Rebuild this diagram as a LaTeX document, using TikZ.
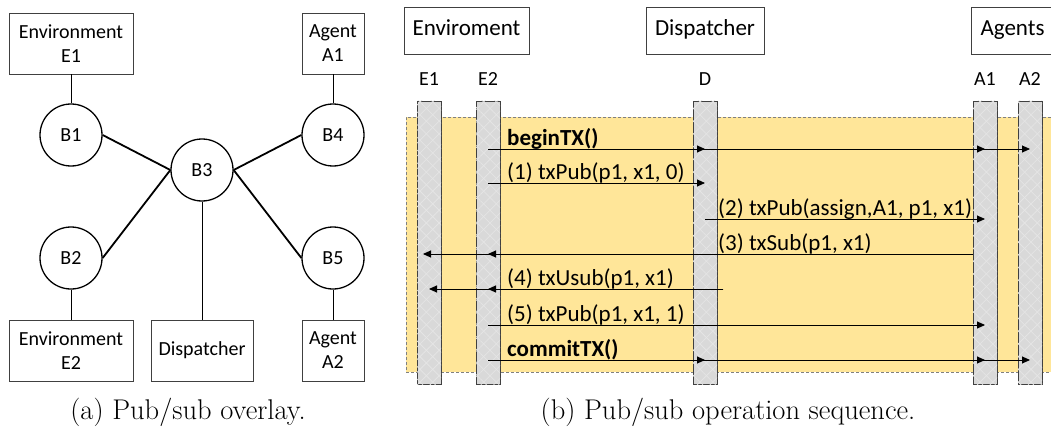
\documentclass[tikz,border=0pt]{standalone}
\usepackage{fontspec}
\newfontfamily\calfont{Carlito}
\usetikzlibrary{arrows.meta,patterns.meta}

\definecolor{notefill}{HTML}{FFE699}
\definecolor{notedash}{HTML}{808080}
\definecolor{barfill}{HTML}{D9D9D9}
\definecolor{barhatch}{HTML}{E6E6E6}
\definecolor{edgegray}{HTML}{404040}

\tikzset{
  box/.style={draw=edgegray, line width=0.9pt, fill=white, align=center,
    inner sep=0pt, font=\calfont\fontsize{20}{24}\selectfont},
  broker/.style={circle, draw=black, line width=1.3pt, minimum size=62pt,
    inner sep=0pt, font=\calfont\fontsize{20}{24}\selectfont},
  thinlink/.style={line width=0.8pt},
  thicklink/.style={line width=1.8pt},
  header/.style={draw=edgegray, line width=0.9pt, fill=white, inner sep=0pt,
    minimum height=47pt, text height=16pt, text depth=5pt,
    font=\calfont\fontsize{23}{27}\selectfont},
  lifeline/.style={draw=edgegray, line width=0.9pt, fill=barfill, inner sep=0pt,
    minimum width=24pt, minimum height=283pt,
    postaction={pattern={Lines[angle=45,distance=9pt,line width=0.6pt]}, pattern color=barhatch},
    postaction={pattern={Lines[angle=-45,distance=9pt,line width=0.6pt]}, pattern color=barhatch}},
  tag/.style={font=\calfont\fontsize{20}{24}\selectfont, inner sep=0pt},
  msg/.style={line width=0.9pt, -{Triangle[length=8pt,width=7pt]}},
  lbl/.style={anchor=base west, inner sep=0pt, font=\calfont\fontsize{23}{27}\selectfont},
  boldlbl/.style={lbl, font=\calfont\bfseries\fontsize{23}{27}\selectfont},
  caption/.style={font=\fontsize{28.5}{32}\selectfont, inner sep=0pt}
}

\begin{document}
\begin{tikzpicture}[x=1pt, y=-1pt]
\useasboundingbox (0,0) rectangle (1051,433);
\clip (0,0) rectangle (1051,433);

% ---------- overlay network ----------
\node[box, minimum width=124pt, minimum height=61pt] (envA) at (71,43.5) {Environment\\E1};
\node[box, minimum width=62pt, minimum height=61pt] (agA) at (333,43.5) {Agent\\A1};
\node[box, minimum width=124pt, minimum height=61pt] (envB) at (71,350.5) {Environment\\E2};
\node[box, minimum width=102pt, minimum height=61pt] (disp) at (202,350.5) {Dispatcher};
\node[box, minimum width=62pt, minimum height=61pt] (agB) at (333,350.5) {Agent\\A2};

\node[broker] (b1) at (71,135) {B1};
\node[broker] (b4) at (333,135) {B4};
\node[broker] (b3) at (202,170) {B3};
\node[broker] (b2) at (71,258) {B2};
\node[broker] (b5) at (333,258) {B5};

\draw[thinlink] (envA) -- (b1);
\draw[thinlink] (agA) -- (b4);
\draw[thinlink] (b2) -- (envB);
\draw[thinlink] (b5) -- (agB);
\draw[thinlink] (b3) -- (disp);
\draw[thicklink] (b1.east) -- (b3.west);
\draw[thicklink] (b2.east) -- (b3.west);
\draw[thicklink] (b4.west) -- (b3.east);
\draw[thicklink] (b5.west) -- (b3.east);

\node[caption] (capa) at (188,412) {(a) Pub/sub overlay.};

% ---------- operation sequence ----------
\node[draw=notedash, line width=0.9pt, dash pattern=on 3pt off 2pt, fill=notefill,
  anchor=north west, minimum width=660pt, minimum height=255pt, inner sep=0pt]
  (txn) at (406,117) {};

\node[header, minimum width=125pt] (hEnv) at (466.5,30.5) {Enviroment};
\node[header, minimum width=118pt] (hDisp) at (705,30.5) {Dispatcher};
\node[header, minimum width=83pt] (hAg) at (1012.5,30.5) {Agents};

\node[lifeline] (E1bar) at (429,242.5) {};
\node[lifeline] (E2bar) at (488,242.5) {};
\node[lifeline] (Dbar) at (705,242.5) {};
\node[lifeline] (A1bar) at (985,242.5) {};
\node[lifeline] (A2bar) at (1030,242.5) {};

\coordinate (hdr) at (0,79);
\node[tag] (tE1) at (E1bar |- hdr) {E1};
\node[tag] (tE2) at (E2bar |- hdr) {E2};
\node[tag] (tD) at (Dbar |- hdr) {D};
\node[tag] (tA1) at (A1bar |- hdr) {A1};
\node[tag] (tA2) at (A2bar |- hdr) {A2};

\coordinate (m0) at (0,149);
\coordinate (m1) at (0,183);
\coordinate (m2) at (0,219);
\coordinate (m3) at (0,254);
\coordinate (m4) at (0,289);
\coordinate (m5) at (0,325);
\coordinate (m6) at (0,360);
\coordinate (e1tip) at ([xshift=-6pt]E1bar.center);
\coordinate (dout) at ([xshift=6pt]Dbar.east);

% beginTX
\draw[msg] (E2bar |- m0) -- (Dbar |- m0);
\draw[msg] (E2bar |- m0) -- (A1bar |- m0);
\draw[msg] (E2bar |- m0) -- (A2bar |- m0);
% (1)
\draw[msg] (E2bar |- m1) -- (Dbar |- m1);
% (2)
\draw[msg] (Dbar |- m2) -- (A1bar |- m2);
% (3)
\draw[msg] (A1bar.west |- m3) -- (E2bar |- m3);
\draw[msg] (A1bar.west |- m3) -- (e1tip |- m3);
% (4)
\draw[msg] (dout |- m4) -- (E2bar |- m4);
\draw[msg] (dout |- m4) -- (E1bar |- m4);
% (5)
\draw[msg] (E2bar |- m5) -- (A1bar |- m5);
% commitTX
\draw[msg] (E2bar |- m6) -- (Dbar |- m6);
\draw[msg] (E2bar |- m6) -- (A1bar |- m6);
\draw[msg] (E2bar |- m6) -- (A2bar |- m6);

\node[boldlbl] (l0) at (507,145) {beginTX()};
\node[lbl] (l1) at (507,179) {(1) txPub(p1, x1, 0)};
\node[lbl] (l2) at (718,215) {(2) txPub(assign,A1, p1, x1)};
\node[lbl] (l3) at (718,250) {(3) txSub(p1, x1)};
\node[lbl] (l4) at (507,285) {(4) txUsub(p1, x1)};
\node[lbl] (l5) at (507,321) {(5) txPub(p1, x1, 1)};
\node[boldlbl] (l6) at (507,356) {commitTX()};

\node[caption] (capb) at (728,412) {(b) Pub/sub operation sequence.};
\end{tikzpicture}
\end{document}
